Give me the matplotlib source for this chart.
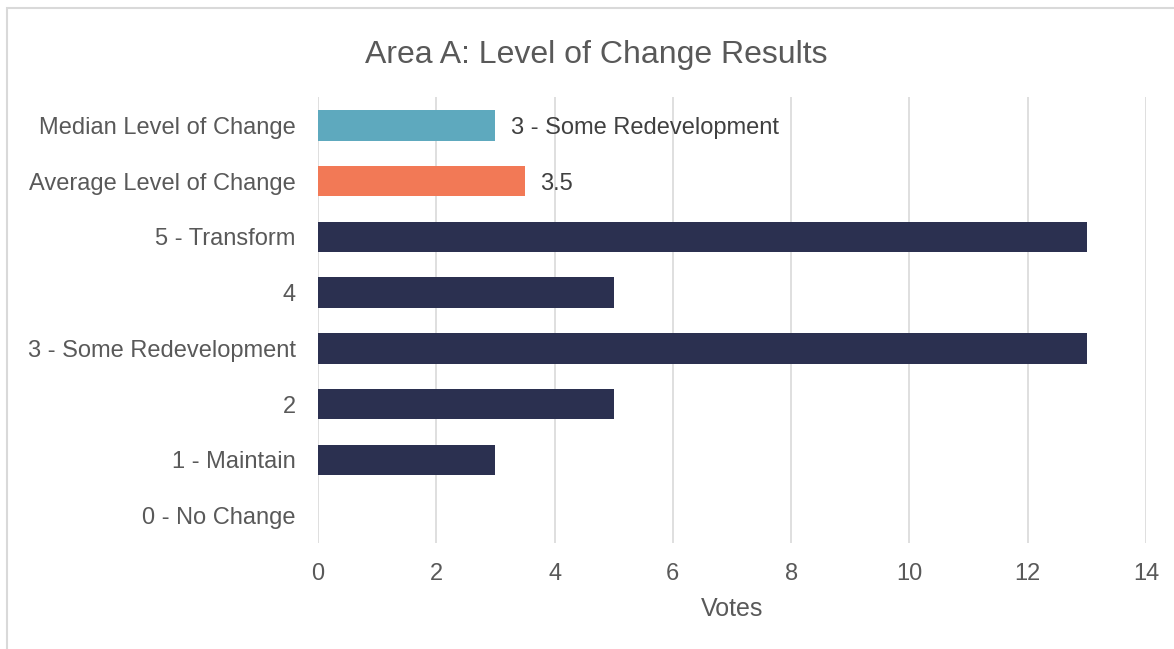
import matplotlib
matplotlib.use('Agg')
from matplotlib import pyplot as plt
from matplotlib.patches import Rectangle

plt.rcParams['font.family'] = ['Liberation Sans', 'DejaVu Sans']

# categories listed bottom to top
categories = ['0 - No Change', '1 - Maintain', '2', '3 - Some Redevelopment', '4',
              '5 - Transform', 'Average Level of Change', 'Median Level of Change']
votes = [0, 3, 5, 13, 5, 13, 3.5, 3]
barColors = ['#2B3050'] * 6 + ['#F27956', '#5EA9BE']
dataLabels = {6: '3.5', 7: '3 - Some Redevelopment'}
xTicks = [0, 2, 4, 6, 8, 10, 12, 14]

textColor = '#595959'

fig = plt.figure(figsize=(11.74, 6.49), dpi=100)
ax = fig.add_axes([0.2709, 0.1626, 0.7052, 0.6872])

ypos = list(range(len(categories)))
ax.barh(ypos, votes, height=0.55, color=barColors, zorder=3)

for i, lbl in dataLabels.items():
    ax.annotate(lbl, (votes[i], ypos[i]), xytext=(11, 0), textcoords='offset points',
                va='center_baseline', ha='left', fontsize=17, color='#404040')

ax.set_xlim(0, 14)
ax.set_ylim(-0.5, len(categories) - 0.5)
ax.set_xticks(xTicks)
ax.set_yticks(ypos)
ax.set_yticklabels(categories)
ax.tick_params(axis='both', length=0, colors=textColor)
ax.tick_params(axis='x', pad=14, labelsize=17)
ax.tick_params(axis='y', pad=16, labelsize=17)
ax.xaxis.grid(True, color='#D9D9D9', linewidth=1.2, zorder=0)
for s in ax.spines.values():
    s.set_visible(False)

ax.set_xlabel('Votes', fontsize=18, color=textColor, labelpad=9)
fig.text(0.5077, 0.916, 'Area A: Level of Change Results', ha='center', va='center',
         fontsize=23, color=textColor)

# outer chart frame (runs off the right and bottom edges)
fig.patches.append(Rectangle((7 / 1174, -0.05), 1.2, 1 - 8 / 649 + 0.05,
                             transform=fig.transFigure, fill=False,
                             edgecolor='#D9D9D9', linewidth=1.5))

plt.savefig('out.png', dpi=100)
